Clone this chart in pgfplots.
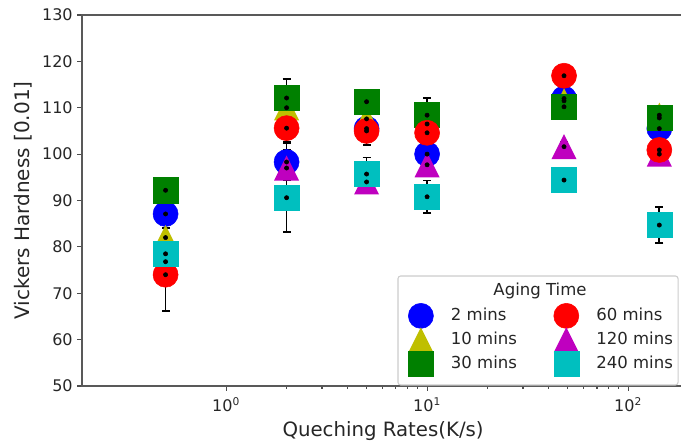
\documentclass[border=0pt]{standalone}
\usepackage{fontspec}
\setmainfont{DejaVu Sans}
\usepackage{pgfplots}
\usepackage{pgfplotstable}
\pgfplotsset{compat=1.18}

\definecolor{mb}{rgb}{0,0,1}
\definecolor{my}{rgb}{0.75,0.75,0}
\definecolor{mg}{rgb}{0,0.5,0}
\definecolor{mr}{rgb}{1,0,0}
\definecolor{mm}{rgb}{0.75,0,0.75}
\definecolor{mc}{rgb}{0,0.75,0.75}

% matplotlib style '^' marker: width = height
\pgfdeclareplotmark{mtri}{%
  \pgfpathmoveto{\pgfqpoint{0pt}{\pgfplotmarksize}}%
  \pgfpathlineto{\pgfqpoint{-\pgfplotmarksize}{-\pgfplotmarksize}}%
  \pgfpathlineto{\pgfqpoint{\pgfplotmarksize}{-\pgfplotmarksize}}%
  \pgfpathclose\pgfusepathqfill}

% x = quench rate (K/s), y = hardness, e = error
\pgfplotstableread{
x y e
0.5 87.1 3
2 98.3 4
5 105.5 2
10 100.0 2
48 112.0 2
143 105.5 2
}\tmin
\pgfplotstableread{
x y e
0.5 82.0 3
2 110.0 3
5 107.6 2
10 106.5 2
48 111.5 2
143 108.4 1.5
}\tenmin
\pgfplotstableread{
x y e
0.5 92.2 2.5
2 112.1 4.1
5 111.3 1.5
10 108.4 3.7
48 110.2 2
143 107.8 2
}\thirtymin
\pgfplotstableread{
x y e
0.5 74.0 7.8
2 105.6 3
5 105.0 3
10 104.6 3
48 116.9 1.5
143 100.9 2
}\sixtymin
\pgfplotstableread{
x y e
0.5 76.8 3
2 97.0 4
5 94.0 1.5
10 97.7 2.5
48 101.6 1
143 100.0 1
}\ohtwentymin
\pgfplotstableread{
x y e
0.5 78.5 3
2 90.6 7.4
5 95.7 3.6
10 90.8 3.5
48 94.4 2.1
143 84.7 3.9
}\thfortymin

\begin{document}
\begin{tikzpicture}
\begin{axis}[
    xmode=log,
    scale only axis,
    width=451.6pt, height=278.25pt,
    xmin=0.192, xmax=190,
    ymin=50, ymax=130,
    ytick={50,60,...,130},
    xtick={1,10,100},
    xticklabels={10\textsuperscript{0},10\textsuperscript{1},10\textsuperscript{2}},
    /pgf/number format/assume math mode=true,
    tick align=outside,
    tick pos=left,
    major tick length=3.5pt,
    minor tick length=2pt,
    every tick/.style={black!70, line width=0.8pt},
    axis line style={black!65, line width=1pt},
    tick label style={font=\fontsize{12}{14}\selectfont, text=black!85},
    xticklabel style={yshift=-2pt},
    xlabel={Queching Rates(K/s)},
    ylabel={Vickers Hardness [0.01]},
    every axis x label/.style={at={(axis description cs:0.5,-0.121)}, anchor=center,
      font=\fontsize{14.8}{17}\selectfont, text=black!85},
    every axis y label/.style={at={(axis description cs:-0.098,0.5)}, anchor=center, rotate=90,
      font=\fontsize{15}{17}\selectfont, text=black!85},
    legend columns=3,
    transpose legend,
    legend cell align=left,
    legend image code/.code={%
      \pgfinterruptboundingbox
      \draw[#1] plot coordinates {(8.5pt,0pt)};%
      \endpgfinterruptboundingbox
      \path[draw=none, fill=none] (0pt,-6pt) rectangle (17pt,6pt);},
    legend style={draw=none, fill=none, inner sep=0pt, outer sep=0pt,
      at={(axis description cs:0.544,0.216)}, anchor=north west,
      font=\fontsize{12.4}{14}\selectfont, text=black!85,
      row sep=3pt,
      nodes={text height=9pt, text depth=2pt, inner sep=2pt},
      /tikz/every odd column/.append style={column sep=12pt},
      /tikz/every even column/.append style={column sep=26.5pt}},
]
% legend box and title
\draw[black!20, line width=0.8pt, rounded corners=2pt, fill=white]
  (axis description cs:0.5248,0.0027) rectangle (axis description cs:0.9899,0.2965);
\node[font=\fontsize{12.4}{14}\selectfont, text=black!85]
  at (axis description cs:0.7607,0.256) {Aging Time};

% markers (drawing order as in the original)
\addplot[only marks, mark=*, mb, mark size=9.4pt, forget plot] table[x=x,y=y] {\tmin};
\addplot[only marks, mark=mtri, my, mark size=9.4pt, forget plot] table[x=x,y=y] {\tenmin};
\addplot[only marks, mark=mtri, mm, mark size=9.4pt, forget plot] table[x=x,y=y] {\ohtwentymin};
\addplot[only marks, mark=square*, mg, mark size=9.4pt, forget plot] table[x=x,y=y] {\thirtymin};
\addplot[only marks, mark=*, mr, mark size=9.4pt, forget plot] table[x=x,y=y] {\sixtymin};
\addplot[only marks, mark=square*, mc, mark size=9.4pt, forget plot] table[x=x,y=y] {\thfortymin};

% error bars
\pgfplotsset{errstyle/.style={only marks, mark=*, black, mark size=1.6pt, forget plot,
  error bars/.cd, y dir=both, y explicit,
  error bar style={line width=1.3pt, black},
  error mark options={rotate=90, mark size=3pt, line width=1.1pt, black}}}
\addplot[errstyle] table[x=x,y=y,y error=e] {\tmin};
\addplot[errstyle] table[x=x,y=y,y error=e] {\tenmin};
\addplot[errstyle] table[x=x,y=y,y error=e] {\thirtymin};
\addplot[errstyle] table[x=x,y=y,y error=e] {\sixtymin};
\addplot[errstyle] table[x=x,y=y,y error=e] {\ohtwentymin};
\addplot[errstyle] table[x=x,y=y,y error=e] {\thfortymin};

% legend entries
\addlegendimage{only marks, mark=*, mb, mark size=9.4pt}
\addlegendentry{2 mins}
\addlegendimage{only marks, mark=mtri, my, mark size=9.4pt}
\addlegendentry{10 mins}
\addlegendimage{only marks, mark=square*, mg, mark size=9.4pt}
\addlegendentry{30 mins}
\addlegendimage{only marks, mark=*, mr, mark size=9.4pt}
\addlegendentry{60 mins}
\addlegendimage{only marks, mark=mtri, mm, mark size=9.4pt}
\addlegendentry{120 mins}
\addlegendimage{only marks, mark=square*, mc, mark size=9.4pt}
\addlegendentry{240 mins}
\end{axis}
\pgfresetboundingbox
\path[use as bounding box] (-61.5pt,-46.5pt) rectangle (449.25pt,289.5pt);
\end{tikzpicture}
\end{document}
